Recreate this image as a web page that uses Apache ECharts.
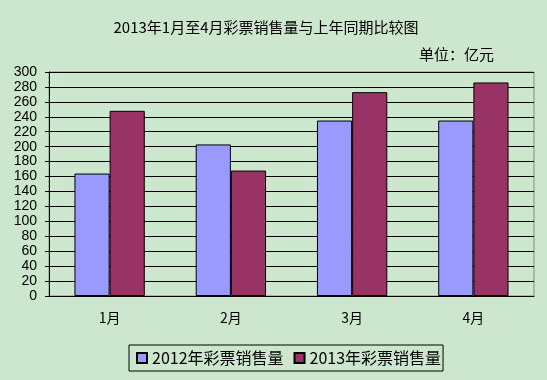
<!DOCTYPE html>
<html><head><meta charset="utf-8">
<script src="https://cdn.jsdelivr.net/npm/echarts@6/dist/echarts.min.js"></script>
<style>html,body{margin:0;padding:0;background:#cde7cf}#c{width:547px;height:380px}</style>
</head><body><div id="c"></div>
<script>
const categories = ['1月','2月','3月','4月'];
const sales2012 = [164, 203, 235, 235];
const sales2013 = [248, 168, 273, 286];
const seriesNames = ['2012年彩票销售量','2013年彩票销售量'];
const titleText = '2013年1月至4月彩票销售量与上年同期比较图';
const unitText = '单位：亿元';

const font = '"Noto Sans CJK SC", sans-serif';
const numFont = '"Liberation Sans", Arial, sans-serif';
const chart = echarts.init(document.getElementById('c'));
chart.setOption({
  backgroundColor: '#cde7cf',
  animation: false,
  title: [
    {text: titleText, left: 261, top: 15, textAlign: 'center',
     textStyle: {fontFamily: font, fontSize: 15, fontWeight: 'normal', color: '#000'}},
    {text: unitText, left: 489, top: 42, textAlign: 'right',
     textStyle: {fontFamily: font, fontSize: 15, fontWeight: 'normal', color: '#000'}}
  ],
  legend: {
    data: seriesNames, left: 129, top: 345, icon: 'rect',
    itemWidth: 10, itemHeight: 10, itemGap: 10,
    borderColor: '#000', borderWidth: 1, padding: [5, 2, 5, 7],
    textStyle: {fontFamily: font, fontSize: 16, color: '#000'}
  },
  grid: {left: 49, right: 13, top: 72, bottom: 84, show: true, borderColor: '#7f8f7f', borderWidth: 1},
  xAxis: {
    type: 'category', data: categories,
    axisLine: {lineStyle: {color: '#000'}},
    axisTick: {inside: true, length: 5, lineStyle: {color: '#000'}},
    axisLabel: {fontFamily: font, fontSize: 14, color: '#000', margin: 15}
  },
  yAxis: {
    type: 'value', min: 0, max: 300, interval: 20,
    axisLine: {show: true, lineStyle: {color: '#000'}},
    axisTick: {show: true, length: 4, lineStyle: {color: '#000'}},
    splitLine: {lineStyle: {color: '#000', width: 1}},
    axisLabel: {fontFamily: numFont, fontSize: 14, color: '#000', margin: 12}
  },
  series: [
    {name: seriesNames[0], type: 'bar', data: sales2012, barGap: '0%', barCategoryGap: '42%',
     itemStyle: {color: '#9999ff', borderColor: '#000', borderWidth: 1}},
    {name: seriesNames[1], type: 'bar', data: sales2013,
     itemStyle: {color: '#993366', borderColor: '#000', borderWidth: 1}}
  ]
});
</script></body></html>
